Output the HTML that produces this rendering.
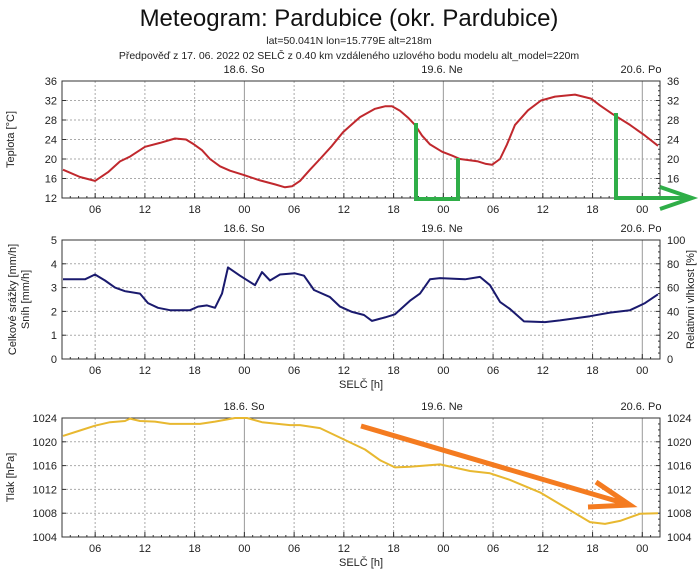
<!DOCTYPE html>
<html><head><meta charset="utf-8"><style>
body{margin:0;background:#fff;width:699px;height:573px;overflow:hidden}
svg{display:block;font-family:"Liberation Sans",sans-serif}
</style></head><body>
<svg id="s" width="699" height="573" viewBox="0 0 699 573" xmlns="http://www.w3.org/2000/svg">
<text x="349" y="26" font-size="24" text-anchor="middle" fill="#111">Meteogram: Pardubice (okr. Pardubice)</text>
<text x="349" y="44" font-size="10.5" text-anchor="middle" fill="#222">lat=50.041N lon=15.779E alt=218m</text>
<text x="349" y="59" font-size="10.5" text-anchor="middle" fill="#222">Předpověď z 17. 06. 2022 02 SELČ z 0.40 km vzdáleného uzlového bodu modelu alt_model=220m</text>
<g id="g"></g>
</svg>
<script>
var g=document.getElementById('g'),NS='http://www.w3.org/2000/svg';
function el(t,a,txt){var e=document.createElementNS(NS,t);for(var k in a)e.setAttribute(k,a[k]);if(txt!==undefined)e.textContent=txt;g.appendChild(e);return e;}
var X0=62,X1=660,px=8.29;
function panel(top,bot,leftLabels,rightLabels,ylab,ylab2,rlab,selc){
  var n=leftLabels.length-1;
  [["18.6. So",244],["19.6. Ne",442],["20.6. Po",641]].forEach(function(d){el('text',{x:d[1],y:top-8,'font-size':11,'text-anchor':'middle',fill:'#222'},d[0]);});
  for(var i=0;i<=n;i++){var y=top+(bot-top)*i/n;
    if(i>0&&i<n)el('line',{x1:X0,x2:X1,y1:y,y2:y,stroke:'#aaa','stroke-dasharray':'2,2','stroke-width':1});
    el('text',{x:X0-5,y:y+4,'font-size':11,'text-anchor':'end',fill:'#222'},leftLabels[i]);
    if(rightLabels[i]!==null)el('text',{x:X1+7,y:y+4,'font-size':11,fill:'#222'},rightLabels[i]);
    el('line',{x1:X1-4,x2:X1,y1:y,y2:y,stroke:'#333'});
    el('line',{x1:X0,x2:X0+4,y1:y,y2:y,stroke:'#333'});
    if(i<n){for(var j=1;j<4;j++){var yy=y+(bot-top)/n*j/4;el('line',{x1:X1-2,x2:X1,y1:yy,y2:yy,stroke:'#333'});}}
  }
  var labs=["06","12","18","00","06","12","18","00","06","12","18","00"];
  for(var h=1;h<72;h++){var x=X0+h*px;
    el('line',{x1:x,x2:x,y1:bot-2,y2:bot,stroke:'#333'});
    if((h-4)%6==0){var k=(h-4)/6;var isDay=labs[k]=="00";
      el('line',{x1:x,x2:x,y1:top,y2:bot,stroke:isDay?'#999':'#aaa','stroke-dasharray':isDay?'':'2,2','stroke-width':1});
      el('line',{x1:x,x2:x,y1:bot-5,y2:bot,stroke:'#333'});
      el('text',{x:x,y:bot+15,'font-size':11,'text-anchor':'middle',fill:'#222'},labs[k]);}
  }
  el('rect',{x:X0,y:top,width:X1-X0,height:bot-top,fill:'none',stroke:'#333','stroke-width':1});
  var cy=(top+bot)/2;
  if(ylab2){el('text',{x:0,y:0,'font-size':11,'text-anchor':'middle',fill:'#222',transform:'translate(16,'+cy+') rotate(-90)'},ylab);
    el('text',{x:0,y:0,'font-size':11,'text-anchor':'middle',fill:'#222',transform:'translate(29,'+cy+') rotate(-90)'},ylab2);}
  else el('text',{x:0,y:0,'font-size':11,'text-anchor':'middle',fill:'#222',transform:'translate(14,'+cy+') rotate(-90)'},ylab);
  if(rlab)el('text',{x:0,y:0,'font-size':11,'text-anchor':'middle',fill:'#222',transform:'translate(694,'+cy+') rotate(-90)'},rlab);
  if(selc)el('text',{x:361,y:bot+29,'font-size':11,'text-anchor':'middle',fill:'#222'},'SELČ [h]');
}
function line(pts,f,col,w){var d=pts.map(function(p,i){return (i?'L':'M')+p[0]+','+f(p[1]).toFixed(1);}).join(' ');
  el('path',{d:d,fill:'none',stroke:col,'stroke-width':w,'stroke-linejoin':'round'});}
panel(81,198,["36","32","28","24","20","16","12"],["36","32","28","24","20","16",null],"Teplota [°C]",null,null,false);
line([[63,17.8],[80,16.3],[95,15.5],[108,17.3],[120,19.5],[130,20.5],[145,22.5],[160,23.3],[175,24.2],[186,24],[194,23],[202,21.8],[210,20],[220,18.5],[230,17.6],[244,16.7],[260,15.6],[275,14.8],[285,14.2],[292,14.4],[300,15.5],[310,17.8],[320,20],[332,22.7],[343,25.5],[360,28.6],[375,30.3],[385,30.8],[392,30.8],[400,29.9],[408,28.5],[415,27],[422,24.8],[430,23],[442,21.5],[452,20.7],[460,20],[478,19.5],[486,19],[492,18.8],[500,20],[507,23],[515,27],[528,30],[541,32],[555,32.8],[575,33.2],[591,32.4],[600,31],[612,29.3],[630,27],[645,24.8],[658,22.7]],function(v){return 81+(36-v)*117/24;},'#c0282d',2);
panel(240,359,["5","4","3","2","1","0"],["100","80","60","40","20","0"],"Celkové srážky [mm/h]","Sníh [mm/h]","Relativní vlhkost [%]",true);
line([[63,3.35],[85,3.35],[95,3.55],[105,3.3],[115,3.0],[125,2.85],[140,2.75],[148,2.35],[158,2.15],[170,2.05],[190,2.05],[198,2.2],[207,2.25],[215,2.15],[222,2.75],[228,3.85],[240,3.5],[255,3.1],[262,3.65],[270,3.3],[280,3.55],[295,3.6],[304,3.5],[314,2.9],[330,2.6],[340,2.2],[352,1.98],[364,1.85],[372,1.6],[385,1.75],[395,1.88],[410,2.45],[420,2.75],[430,3.35],[440,3.4],[465,3.35],[480,3.45],[490,3.1],[500,2.4],[510,2.1],[524,1.58],[545,1.55],[560,1.62],[590,1.8],[610,1.95],[630,2.05],[645,2.35],[658,2.72]],function(v){return 240+(5-v)*23.8;},'#1a1a6e',2);
panel(418,537,["1024","1020","1016","1012","1008","1004"],["1024","1020","1016","1012","1008","1004"],"Tlak [hPa]",null,null,true);
line([[63,1021],[80,1021.9],[95,1022.7],[110,1023.3],[125,1023.5],[130,1023.9],[140,1023.5],[155,1023.4],[170,1023],[200,1023],[215,1023.4],[235,1024],[247,1024],[262,1023.3],[290,1022.8],[300,1022.8],[320,1022.3],[345,1020.3],[365,1018.7],[380,1016.9],[395,1015.7],[410,1015.8],[440,1016.2],[470,1015.1],[490,1014.7],[510,1013.6],[540,1011.5],[570,1008.5],[590,1006.5],[605,1006.2],[620,1006.7],[640,1007.9],[658,1008]],function(v){return 418+(1024-v)*5.95;},'#e8b830',2);
el('path',{d:'M416,123 L416,199 L458,199 L458,158',fill:'none',stroke:'#2fae48','stroke-width':4});
el('path',{d:'M616,113 L616,198 L690,198 M660,187 L692,198 L660,209',fill:'none',stroke:'#2fae48','stroke-width':4});
el('path',{d:'M361,426 L630,505 M596,482 L630,505 L588,507',fill:'none',stroke:'#f47b20','stroke-width':5});
</script>
</body></html>
